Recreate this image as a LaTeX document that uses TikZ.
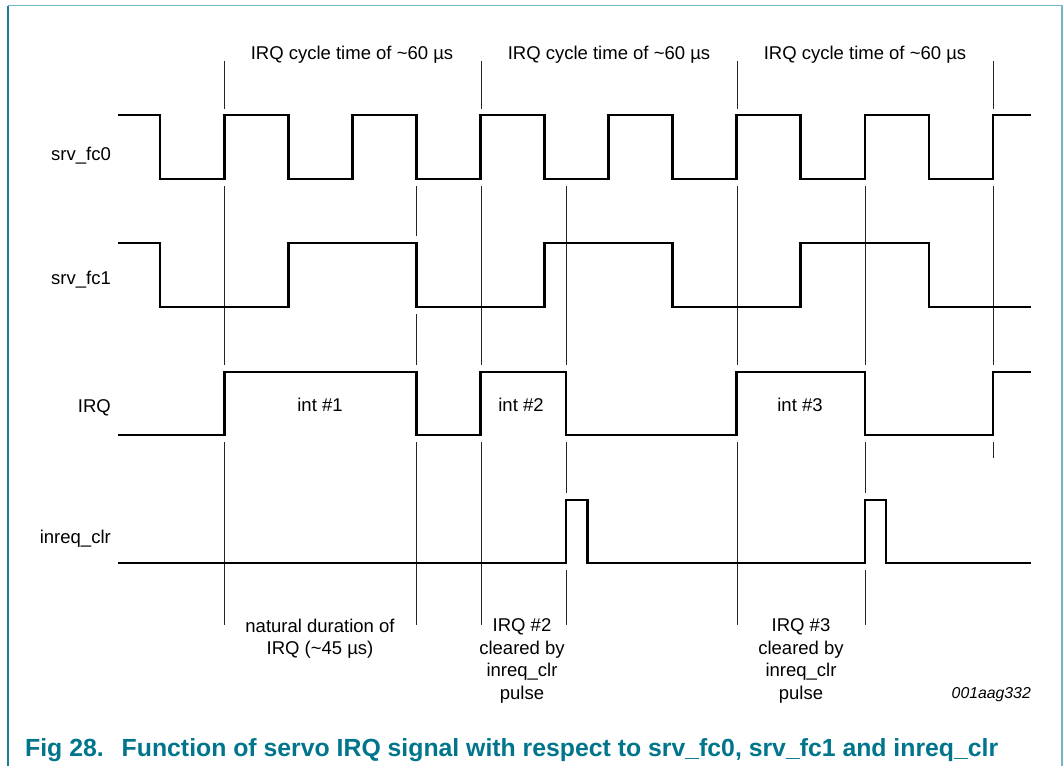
\documentclass[tikz,border=0pt]{standalone}
\usepackage{fontspec}
\setmainfont{Liberation Sans}
\definecolor{framedark}{RGB}{25,125,148}
\definecolor{framelight}{RGB}{115,182,200}
\definecolor{captioncol}{RGB}{0,117,140}
\begin{document}
\begin{tikzpicture}[x=1pt,y=-1pt,
  wave/.style={line width=2.8pt, line join=miter, line cap=butt},
  guide/.style={line width=1pt, black!85},
  lbl/.style={inner sep=0pt, font=\fontsize{18.5}{22.5}\selectfont},
  multilbl/.style={lbl, align=center, anchor=north},
  caption/.style={inner sep=0pt, anchor=base west, text=captioncol, font=\fontsize{24.8}{29}\selectfont\bfseries}]
\useasboundingbox (0,0) rectangle (1063,766);
% frame
\draw[framedark, line width=1.7pt] (8,5.5) -- (8,766);
\draw[framelight, line width=1.8pt] (8,5.5) -- (1062,5.5) -- (1062,766);

% signal names
\node[lbl, anchor=base east] (nfc0) at (111,160) {srv\_fc0};
\node[lbl, anchor=base east] (nfc1) at (111,284) {srv\_fc1};
\node[lbl, anchor=base east] (nirq) at (111,412) {IRQ};
\node[lbl, anchor=base east] (nclr) at (111,543) {inreq\_clr};

% cycle labels
\node[lbl, anchor=base] (cyc1) at (352,59) {IRQ cycle time of \textasciitilde60 µs};
\node[lbl, anchor=base] (cyc2) at (609,59) {IRQ cycle time of \textasciitilde60 µs};
\node[lbl, anchor=base] (cyc3) at (865,59) {IRQ cycle time of \textasciitilde60 µs};

% interrupt labels
\node[lbl, anchor=base] (int1) at (320,411) {int \#1};
\node[lbl, anchor=base] (int2) at (521,411) {int \#2};
\node[lbl, anchor=base] (int3) at (800,411) {int \#3};

% bottom notes
\node[multilbl] (note1) at (320,618.5) {natural duration of\\IRQ (\textasciitilde45 µs)};
\node[multilbl] (note2) at (522,618.5) {IRQ \#2\\cleared by\\inreq\_clr\\pulse};
\node[multilbl] (note3) at (801,618.5) {IRQ \#3\\cleared by\\inreq\_clr\\pulse};

\node[inner sep=0pt, anchor=base east, font=\fontsize{15.8}{19}\selectfont\itshape] (fignum) at (1031,698) {001aag332};

\node[caption] (cap) at (25,756) {Fig 28.\hspace{18pt}Function of servo IRQ signal with respect to srv\_fc0, srv\_fc1 and inreq\_clr};

% guide lines
\foreach \x in {224,481,737,993} \draw[guide] (\x,61) -- (\x,109);
\foreach \x in {224,481,566,737,865,993} \draw[guide] (\x,186) -- (\x,365);
\draw[guide] (416.3,186) -- (416.3,236);
\draw[guide] (416.3,314) -- (416.3,365);
\foreach \x in {224,416.3,481,737} \draw[guide] (\x,442) -- (\x,625);
\foreach \x in {566,865} {
  \draw[guide] (\x,442) -- (\x,493);
  \draw[guide] (\x,570) -- (\x,625);
}
\draw[guide] (993,442) -- (993,458);

% waveforms
\draw[wave] (118,115) -| (160,179) -| (224.1,115) -| (288.2,179) -| (352.2,115)
  -| (416.3,179) -| (480.4,115) -| (544.5,179) -| (608.6,115) -| (672.6,179)
  -| (736.7,115) -| (800.8,179) -| (864.9,115) -| (929,179) -| (993,115) -- (1031,115);
\draw[wave] (118,243) -| (160,307) -| (288.2,243) -| (416.3,307) -| (544.5,243)
  -| (672.6,307) -| (800.8,243) -| (929,307) -- (1031,307);
\draw[wave] (118,435) -| (224.1,372) -| (416.3,435) -| (480.4,372) -| (566,435)
  -| (736.7,372) -| (864.9,435) -| (993,372) -- (1031,372);
\draw[wave] (118,563) -| (566,500) -| (587.5,563) -| (864.9,500) -| (886,563) -- (1031,563);
\end{tikzpicture}
\end{document}
